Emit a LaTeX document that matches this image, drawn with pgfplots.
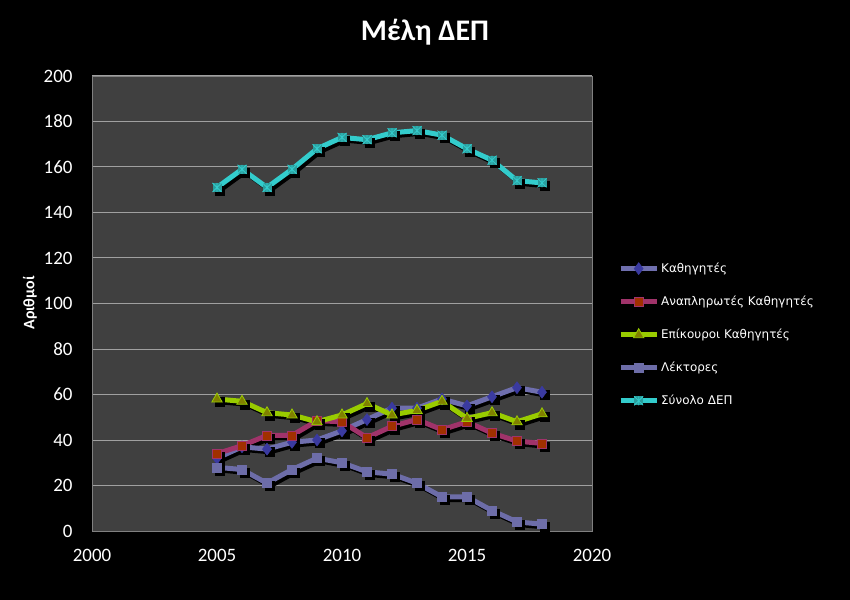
\documentclass[border=0pt]{standalone}
\usepackage{pgfplots}
\pgfplotsset{compat=1.18}
\usepackage{pgfplotstable}
\usepackage{fontspec}
\setmainfont{Carlito}
\newfontfamily\legfont{DejaVu Sans}
\definecolor{bgplot}{HTML}{404040}
\definecolor{gridc}{HTML}{A0A0A0}
\definecolor{kathline}{HTML}{6F6FAE}
\definecolor{kathmark}{HTML}{3A3AA0}
\definecolor{analine}{HTML}{A0336A}
\definecolor{anamark}{HTML}{A03000}
\definecolor{epiline}{HTML}{99CC00}
\definecolor{epimark}{HTML}{808000}
\definecolor{lekline}{HTML}{6D6DA8}
\definecolor{totline}{HTML}{33CCCC}
\definecolor{totmark}{HTML}{2A9E9E}

\pgfdeclareplotmark{boxstar}{%
 \pgfpathrectangle{\pgfqpoint{-\pgfplotmarksize}{-\pgfplotmarksize}}{\pgfqpoint{2\pgfplotmarksize}{2\pgfplotmarksize}}%
 \pgfusepathqfill
 \pgfpathmoveto{\pgfqpoint{-\pgfplotmarksize}{-\pgfplotmarksize}}\pgfpathlineto{\pgfqpoint{\pgfplotmarksize}{\pgfplotmarksize}}%
 \pgfpathmoveto{\pgfqpoint{-\pgfplotmarksize}{\pgfplotmarksize}}\pgfpathlineto{\pgfqpoint{\pgfplotmarksize}{-\pgfplotmarksize}}%
 \pgfpathmoveto{\pgfqpoint{0pt}{-\pgfplotmarksize}}\pgfpathlineto{\pgfqpoint{0pt}{\pgfplotmarksize}}%
 \pgfusepathqstroke}

\pgfplotstableread{
year kath ana epi lek tot
2005 32 34 58 28 151
2006 37 37.5 57 27 159
2007 36 42 52 21 151
2008 39 42 51 27 159
2009 40 48.5 48 32 168
2010 44 48 51 30 173
2011 49 41 56 26 172
2012 54 46 51 25 175
2013 54 49 53 21 176
2014 58 44.5 57 15 174
2015 55 48 49.5 15 168
2016 59 43 52 9 163
2017 63 39.5 48 4 154
2018 61 38.5 51.5 3 153
}\data

\begin{document}
\begin{tikzpicture}
\fill[black] (0,0) rectangle (850bp,600bp);
\node[white, font=\bfseries\fontsize{30}{34}\selectfont] at (425bp,568bp) {Μέλη ΔΕΠ};
\node[white, rotate=90, font=\bfseries\fontsize{16}{18}\selectfont] at (30bp,297bp) {Αριθμοί};
\begin{axis}[
  at={(92bp,69bp)}, anchor=south west,
  width=500bp, height=455bp, scale only axis,
  xmin=2000, xmax=2020, ymin=0, ymax=200,
  xtick={2000,2005,...,2020}, ytick={0,20,...,200},
  axis background/.style={fill=bgplot},
  axis line style={draw=gray, line width=0.8bp},
  ymajorgrids, grid style={gridc, line width=1pt},
  major tick style={draw=none},
  ticklabel style={white, font=\fontsize{19}{21}\selectfont},
  /pgf/number format/assume math mode=true,
  x tick label style={/pgf/number format/1000 sep={}, yshift=-15bp},
  y tick label style={xshift=-16bp},
  clip=false,
  legend style={at={(1.046,0.598)}, anchor=north west, draw=none, fill=none,
    text=white, font=\legfont\fontsize{12}{14}\selectfont, row sep=18bp,
    cells={anchor=west}},
  legend image code/.code={\draw[mark repeat=2,mark phase=2] plot coordinates {(0bp,0bp)(18bp,0bp)(36bp,0bp)};},
]
% shadows
\foreach \c in {kath,ana,epi,lek,tot}{
  \addplot[black, line width=4.5bp, xshift=3bp, yshift=-3bp, mark=square*, mark size=4.5bp, mark options={line width=0.5bp}, forget plot] table[x=year,y=\c]{\data};
}
\addplot[kathline, line width=5bp, mark=diamond*, mark size=6bp, mark options={fill=kathmark, draw=kathmark, line width=0.5bp}] table[x=year,y=kath]{\data};
\addlegendentry{Καθηγητές}
\addplot[analine, line width=5bp, mark=square*, mark size=4.5bp, mark options={fill=anamark, draw=analine, line width=0.8bp}] table[x=year,y=ana]{\data};
\addlegendentry{Αναπληρωτές Καθηγητές}
\addplot[epiline, line width=5bp, mark=triangle*, mark size=6bp, mark options={fill=epimark, draw=epiline, line width=0.8bp}] table[x=year,y=epi]{\data};
\addlegendentry{Επίκουροι Καθηγητές}
\addplot[lekline, line width=5bp, mark=square*, mark size=4.5bp, mark options={fill=lekline, draw=lekline, line width=0.5bp}] table[x=year,y=lek]{\data};
\addlegendentry{Λέκτορες}
\addplot[totline, line width=5bp, mark=boxstar, mark size=4.5bp, mark options={fill=totmark, draw=totline, line width=0.8bp}] table[x=year,y=tot]{\data};
\addlegendentry{Σύνολο ΔΕΠ}
\end{axis}
\end{tikzpicture}
\end{document}
